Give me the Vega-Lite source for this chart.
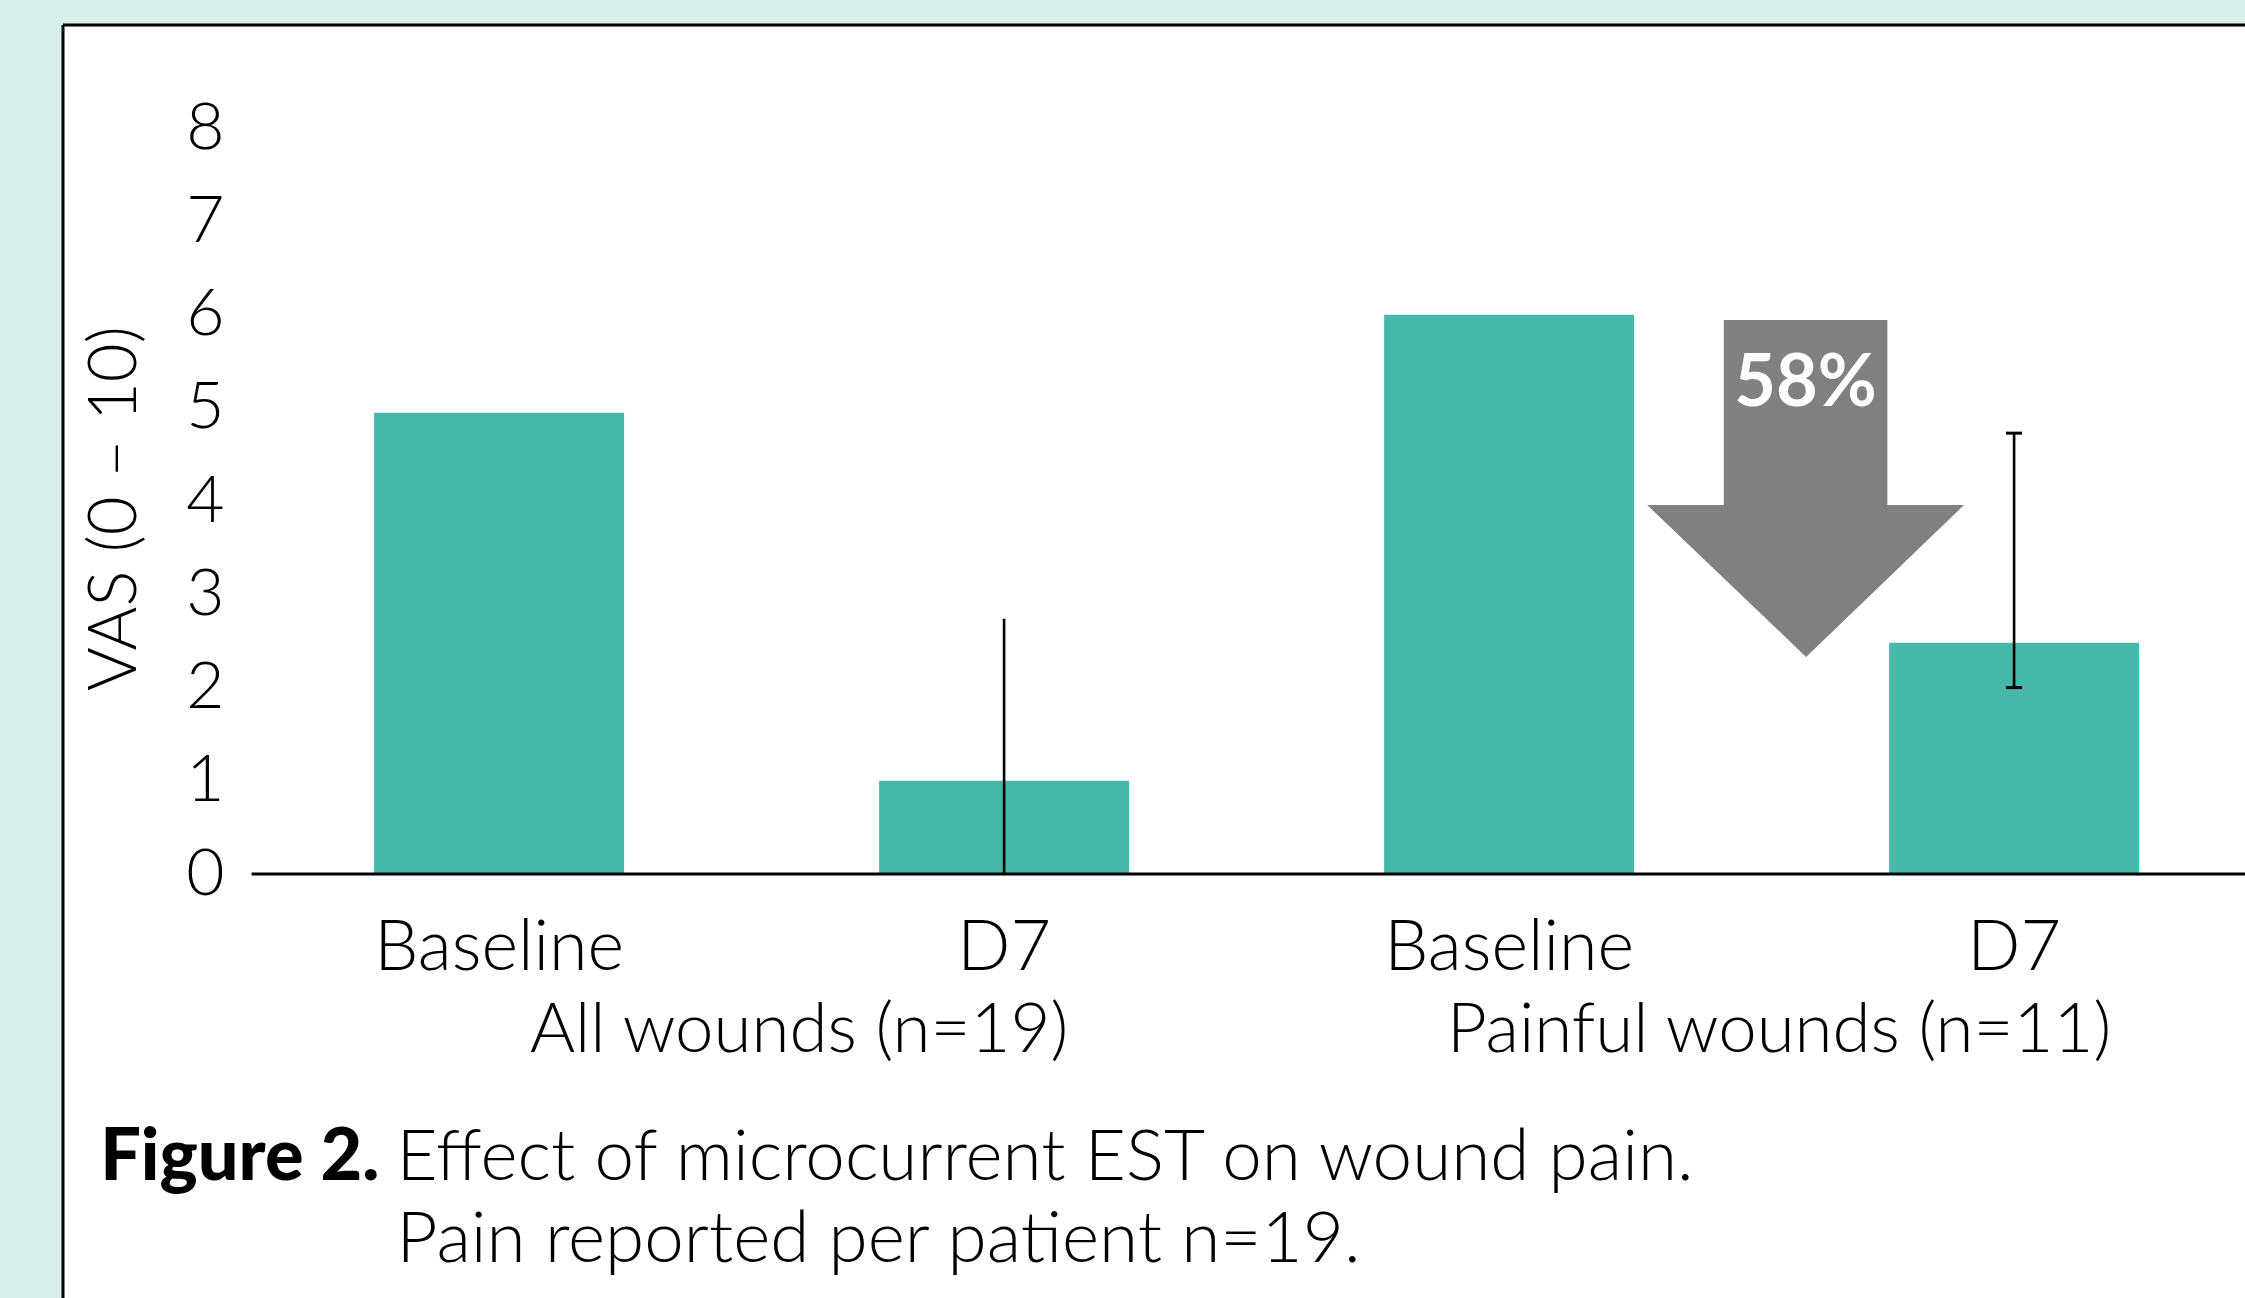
{
  "$schema": "https://vega.github.io/schema/vega-lite/v6.json",
  "autosize": "none",
  "width": 2182,
  "height": 1273,
  "padding": {"left": 63, "top": 25, "right": 0, "bottom": 0},
  "background": "#d9efec",
  "datasets": {
    "bars": [
      {"group": "All wounds (n=19)", "time": "Baseline", "id": "All|Baseline", "vas": 4.95},
      {"group": "All wounds (n=19)", "time": "D7", "id": "All|D7", "vas": 1.0, "lo": 0, "hi": 2.74},
      {"group": "Painful wounds (n=11)", "time": "Baseline", "id": "Painful|Baseline", "vas": 6.0},
      {"group": "Painful wounds (n=11)", "time": "D7", "id": "Painful|D7", "vas": 2.48, "lo": 2.0, "hi": 4.73}
    ],
    "groups": [
      {"group": "All wounds (n=19)", "anchor": "All|D7"},
      {"group": "Painful wounds (n=11)", "anchor": "Painful|D7"}
    ],
    "change": [
      {"from": "Painful|Baseline", "to": "Painful|D7", "label": "58%"}
    ],
    "caption": [
      {"head": "Figure 2.", "body": "Effect of microcurrent EST on wound pain.\nPain reported per patient n=19."}
    ]
  },
  "layer": [
    {
      "data": {"name": "bars"},
      "mark": {"type": "bar", "color": "#46b8aa"},
      "encoding": {
        "x": {
          "field": "id", "type": "nominal", "sort": null,
          "scale": {
            "domain": ["All|Baseline", "All|D7", "Painful|Baseline", "Painful|D7"],
            "paddingInner": 0.505, "paddingOuter": 0.4129, "align": 0.746
          },
          "axis": {
            "orient": "bottom", "offset": -424, "domain": false, "ticks": false, "tickSize": 0,
            "grid": false, "title": null, "labelAngle": 0, "labelLimit": 2000,
            "labelExpr": "split(datum.label, '|')[1]",
            "labelFont": "Lato", "labelFontWeight": 300, "labelFontSize": 70, "labelColor": "#000000",
            "labelPadding": 95, "labelBaseline": "alphabetic"
          }
        },
        "y": {
          "field": "vas", "type": "quantitative",
          "scale": {"domain": [-4.549, 9.109], "zero": false, "nice": false},
          "axis": {
            "orient": "left", "offset": -175, "values": [0, 1, 2, 3, 4, 5, 6, 7, 8], "format": "d",
            "domain": false, "ticks": false, "tickSize": 0, "grid": false,
            "labelFont": "Lato", "labelFontWeight": 300, "labelFontSize": 66, "labelColor": "#000000",
            "labelPadding": 14,
            "title": "VAS (0 – 10)", "titleFont": "Lato", "titleFontWeight": 300, "titleFontSize": 67,
            "titleColor": "#000000", "titlePadding": 36, "titleY": 483
          }
        }
      }
    },
    {
      "data": {"name": "change"},
      "mark": {"type": "rule", "color": "#000000", "strokeWidth": 3},
      "encoding": {
        "x": {"datum": "All|Baseline", "type": "nominal", "bandPosition": -0.49},
        "x2": {"datum": "Painful|D7", "bandPosition": 1.6},
        "y": {"datum": 0, "type": "quantitative"}
      }
    },
    {
      "data": {"name": "bars"},
      "transform": [{"filter": "isValid(datum.hi)"}],
      "mark": {"type": "rule", "color": "#000000", "strokeWidth": 2.6},
      "encoding": {
        "x": {"field": "id", "type": "nominal"},
        "y": {"field": "lo", "type": "quantitative"},
        "y2": {"field": "hi"}
      }
    },
    {
      "data": {"name": "bars"},
      "transform": [{"filter": "datum.id === 'Painful|D7'"}],
      "mark": {"type": "tick", "color": "#000000", "thickness": 3, "size": 16, "opacity": 1},
      "encoding": {
        "x": {"field": "id", "type": "nominal"},
        "y": {"field": "lo", "type": "quantitative"}
      }
    },
    {
      "data": {"name": "bars"},
      "transform": [{"filter": "datum.id === 'Painful|D7'"}],
      "mark": {"type": "tick", "color": "#000000", "thickness": 3, "size": 16, "opacity": 1},
      "encoding": {
        "x": {"field": "id", "type": "nominal"},
        "y": {"field": "hi", "type": "quantitative"}
      }
    },
    {
      "data": {"name": "change"},
      "mark": {
        "type": "point", "filled": true, "opacity": 1, "strokeWidth": 0, "color": "#808080",
        "size": 115600,
        "shape": "M-0.481,-0.991L0.481,-0.991L0.481,0.097L0.932,0.097L0.003,0.991L-0.932,0.097L-0.481,0.097Z"
      },
      "encoding": {
        "x": {"field": "to", "type": "nominal", "bandPosition": -0.334},
        "y": {"datum": 4.136, "type": "quantitative"}
      }
    },
    {
      "data": {"name": "change"},
      "mark": {"type": "text", "font": "Lato", "fontWeight": 700, "fontSize": 72, "color": "#ffffff", "align": "center", "baseline": "alphabetic"},
      "encoding": {
        "x": {"field": "to", "type": "nominal", "bandPosition": -0.334},
        "y": {"datum": 5.02, "type": "quantitative"},
        "text": {"field": "label"}
      }
    },
    {
      "data": {"name": "groups"},
      "transform": [{"filter": "datum.anchor === 'All|D7'"}],
      "mark": {"type": "text", "font": "Lato", "fontWeight": 300, "fontSize": 69, "color": "#000000", "align": "center", "baseline": "alphabetic"},
      "encoding": {
        "x": {"field": "anchor", "type": "nominal", "bandPosition": -0.32},
        "y": {"datum": -1.91, "type": "quantitative"},
        "text": {"field": "group"}
      }
    },
    {
      "data": {"name": "groups"},
      "transform": [{"filter": "datum.anchor === 'Painful|D7'"}],
      "mark": {"type": "text", "font": "Lato", "fontWeight": 300, "fontSize": 69, "color": "#000000", "align": "center", "baseline": "alphabetic"},
      "encoding": {
        "x": {"field": "anchor", "type": "nominal", "bandPosition": -0.44},
        "y": {"datum": -1.91, "type": "quantitative"},
        "text": {"field": "group"}
      }
    },
    {
      "data": {"name": "caption"},
      "mark": {"type": "text", "font": "Lato", "fontWeight": 900, "fontSize": 72, "color": "#000000", "align": "left", "baseline": "alphabetic"},
      "encoding": {
        "x": {"datum": "All|Baseline", "type": "nominal", "bandPosition": -1.096},
        "y": {"datum": -3.283, "type": "quantitative"},
        "text": {"field": "head"}
      }
    },
    {
      "data": {"name": "caption"},
      "mark": {"type": "text", "font": "Lato", "fontWeight": 300, "fontSize": 71, "color": "#000000", "align": "left", "baseline": "alphabetic", "lineBreak": "\n", "lineHeight": 82},
      "encoding": {
        "x": {"datum": "All|Baseline", "type": "nominal", "bandPosition": 0.09},
        "y": {"datum": -3.283, "type": "quantitative"},
        "text": {"field": "body"}
      }
    }
  ],
  "config": {
    "view": {"fill": "#ffffff", "stroke": "#000000", "strokeWidth": 3, "strokeDash": [2182, 3455, 1273, 0]},
    "font": "Lato"
  }
}
